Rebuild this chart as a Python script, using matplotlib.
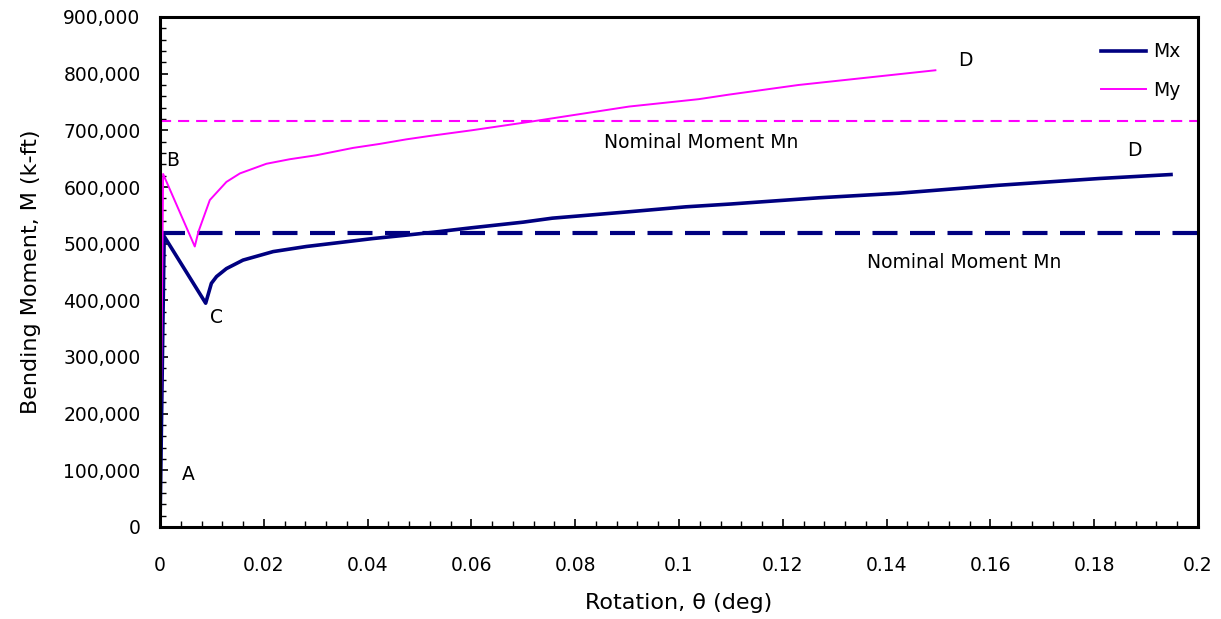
import matplotlib
matplotlib.use("Agg")
import matplotlib.pyplot as plt
from matplotlib.ticker import MultipleLocator, FuncFormatter

# ---- data ----
mx_rot = [0, 0.0008, 0.0088, 0.0099, 0.0109, 0.0128, 0.016, 0.0218, 0.0282, 0.0346,
          0.041, 0.0474, 0.0525, 0.06, 0.07, 0.0756, 0.09, 0.1013, 0.11, 0.127,
          0.1423, 0.1615, 0.181, 0.1948]
mx_mom = [0, 513000, 395000, 430000, 442000, 456000, 471000, 486000, 495000, 502000,
          509000, 515000, 520000, 528000, 538000, 545000, 556000, 565000, 570000, 581000,
          589000, 603000, 615000, 622000]

my_rot = [0, 0.0006, 0.0067, 0.0074, 0.0096, 0.0128, 0.0154, 0.0205, 0.025, 0.0301,
          0.0372, 0.0423, 0.0474, 0.0519, 0.06, 0.0712, 0.0904, 0.1038, 0.1096, 0.123,
          0.1423, 0.1494]
my_mom = [0, 623000, 495000, 521000, 577000, 609000, 624000, 641000, 649000, 656000,
          669000, 676000, 684000, 690000, 700000, 715000, 742000, 755000, 763000, 780000,
          799000, 806000]

mn_x = 519000
mn_y = 717000

x_ticks = [0, 0.02, 0.04, 0.06, 0.08, 0.1, 0.12, 0.14, 0.16, 0.18, 0.2]
y_ticks = [0, 100000, 200000, 300000, 400000, 500000, 600000, 700000, 800000, 900000]

NAVY = "#000080"
MAG = "#FF00FF"

plt.rcParams["font.family"] = ["DejaVu Sans"]
plt.rcParams["lines.scale_dashes"] = False

fig = plt.figure(figsize=(12.21, 6.19), dpi=100)
ax = fig.add_axes([160 / 1221, 1 - 527 / 619, (1198 - 160) / 1221, (527 - 17) / 619])

ax.axhline(mn_y, color=MAG, lw=1.5, dashes=(8, 5))
ax.axhline(mn_x, color=NAVY, lw=3.0, dashes=(18, 9))

ax.plot(mx_rot, mx_mom, color=NAVY, lw=2.6, label="Mx", solid_joinstyle="round")
ax.plot(my_rot, my_mom, color=MAG, lw=1.4, label="My", solid_joinstyle="round")

ax.set_xlim(0, 0.2)
ax.set_ylim(0, 900000)
ax.set_xticks(x_ticks)
ax.set_yticks(y_ticks)
ax.xaxis.set_minor_locator(MultipleLocator(0.004))
ax.yaxis.set_minor_locator(MultipleLocator(20000))
ax.xaxis.set_major_formatter(FuncFormatter(lambda v, p: "%g" % round(v, 3)))
ax.yaxis.set_major_formatter(FuncFormatter(lambda v, p: "{:,}".format(int(round(v)))))

ax.tick_params(which="major", direction="in", length=6, width=1.2, labelsize=13.5)
ax.tick_params(which="minor", direction="in", length=4, width=1.0)
ax.tick_params(axis="x", which="major", pad=21)
ax.tick_params(axis="y", which="major", pad=14)
for s in ax.spines.values():
    s.set_linewidth(2.2)

ax.set_xlabel("Rotation, \u03b8 (deg)", fontsize=16, labelpad=13)
ax.set_ylabel("Bending Moment, M (k-ft)", fontsize=16, labelpad=16)

ax.text(0.0025, 647000, "B", fontsize=13.5, ha="center", va="center")
ax.text(0.0108, 369000, "C", fontsize=13.5, ha="center", va="center")
ax.text(0.0054, 93500, "A", fontsize=13.5, ha="center", va="center")
ax.text(0.1552, 824000, "D", fontsize=13.5, ha="center", va="center")
ax.text(0.1877, 665000, "D", fontsize=13.5, ha="center", va="center")
ax.text(0.1042, 679000, "Nominal Moment Mn", fontsize=13.5, ha="center", va="center")
ax.text(0.155, 467500, "Nominal Moment Mn", fontsize=13.5, ha="center", va="center")

ax.legend(loc="upper right", bbox_to_anchor=(0.9904, 0.965), frameon=False,
          fontsize=13.5, handlelength=2.4, labelspacing=1.05, borderaxespad=0.0,
          handletextpad=0.4)

fig.savefig("out.png", dpi=100)
